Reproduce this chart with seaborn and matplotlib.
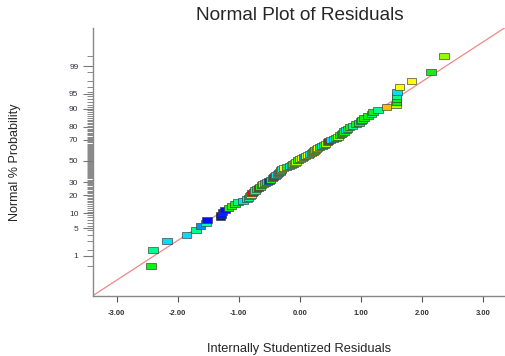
import matplotlib
matplotlib.use("Agg")
import matplotlib.pyplot as plt
import seaborn as sns
import numpy as np
import pandas as pd
from matplotlib.colors import LinearSegmentedColormap
from matplotlib.markers import MarkerStyle
from matplotlib.path import Path
from statistics import NormalDist

# Internally studentized residuals, sorted
residuals = [
    -2.44, -2.41, -2.18, -1.86, -1.70, -1.63, -1.54, -1.52, -1.30, -1.29,
    -1.27, -1.23, -1.17, -1.12, -1.06, -1.01, -0.93, -0.87, -0.84, -0.82,
    -0.80, -0.78, -0.76, -0.74, -0.71, -0.68, -0.65, -0.63, -0.60, -0.57,
    -0.54, -0.51, -0.48, -0.45, -0.43, -0.41, -0.39, -0.37, -0.35, -0.33,
    -0.32, -0.31, -0.30, -0.27, -0.22, -0.17, -0.14, -0.11, -0.08, -0.06,
    -0.03, 0.00, 0.03, 0.06, 0.09, 0.13, 0.16, 0.19, 0.21, 0.23,
    0.25, 0.27, 0.29, 0.32, 0.36, 0.39, 0.42, 0.45, 0.47, 0.50,
    0.55, 0.59, 0.62, 0.65, 0.68, 0.70, 0.72, 0.75, 0.78, 0.81,
    0.86, 0.92, 0.97, 1.00, 1.02, 1.05, 1.12, 1.17, 1.20, 1.28,
    1.42, 1.575, 1.58, 1.58, 1.585, 1.59, 1.63, 1.83, 2.15, 2.36,
]

# colour level of each point (0 = blue ... 1 = red)
color_level = [
    0.50, 0.42, 0.30, 0.30, 0.42, 0.18, 0.40, 0.02, 0.00, 0.03,
    0.05, 0.02, 0.50, 0.52, 0.50, 0.42, 0.30, 0.40, 0.42, 0.40,
    0.78, 1.00, 0.42, 0.40, 0.50, 1.00, 0.50, 0.50, 0.60, 0.50,
    0.30, 0.05, 0.50, 0.30, 1.00, 0.50, 0.30, 0.72, 0.18, 0.62,
    0.30, 0.72, 0.30, 0.72, 0.50, 0.30, 0.62, 0.50, 0.72, 0.62,
    0.50, 0.62, 0.72, 0.18, 0.62, 0.72, 0.30, 0.72, 0.50, 0.72,
    0.50, 0.72, 0.72, 0.50, 0.30, 0.50, 0.62, 0.50, 1.00, 0.30,
    0.30, 0.50, 0.62, 0.50, 0.50, 0.62, 0.50, 0.30, 0.50, 0.50,
    0.42, 0.50, 0.50, 0.30, 0.50, 0.50, 0.50, 0.42, 0.50, 0.42,
    0.85, 0.62, 0.50, 0.50, 0.42, 0.30, 0.72, 0.72, 0.50, 0.60,
]

prob_labels = [1, 5, 10, 20, 30, 50, 70, 80, 90, 95, 99]
x_ticks = [-3, -2, -1, 0, 1, 2, 3]
ref_slope = 0.972

n = len(residuals)
nd = NormalDist()
z = [nd.inv_cdf((i + 0.5) / n) for i in range(n)]
df = pd.DataFrame({"res": residuals, "z": z, "lvl": color_level})

cmap = LinearSegmentedColormap.from_list("de", [
    (0.0, "#0000FF"), (0.18, "#0090FF"), (0.30, "#00E0F8"), (0.40, "#00FFA8"),
    (0.50, "#10F010"), (0.62, "#A8FF00"), (0.72, "#FFFF00"), (0.85, "#FFC000"),
    (1.0, "#FF0000")])

sns.set_style("white")
plt.rcParams["font.family"] = ["Liberation Sans", "DejaVu Sans"]

fig = plt.figure(figsize=(5.05, 3.56), dpi=100)
ax = fig.add_axes([93 / 505, 1 - 296 / 356, 412 / 505, (296 - 28) / 356])

xlim = (-3.39, 3.36)
ax.plot(xlim, [ref_slope * xlim[0], ref_slope * xlim[1]], color="#F08888", lw=0.9, zorder=1)

rect = MarkerStyle(Path([(-1.6, -1), (1.6, -1), (1.6, 1), (-1.6, 1), (-1.6, -1)]))
sns.scatterplot(data=df, x="res", y="z", hue="lvl", palette=cmap, hue_norm=(0, 1),
                marker=rect, s=48, edgecolor="#383838", linewidth=0.45,
                legend=False, ax=ax, zorder=3)

ax.set_xlim(*xlim)
ax.set_ylim(-3.306, 3.257)

ax.set_xticks(x_ticks)
ax.set_xticklabels([f"{t:.2f}" for t in x_ticks], fontsize=5.5, fontweight="bold", color="#333333")
ax.set_yticks([nd.inv_cdf(p / 100) for p in prob_labels])
ax.set_yticklabels([str(p) for p in prob_labels], fontsize=6, color="#333344")
ax.set_yticks(z, minor=True)

ax.tick_params(axis="x", length=4, width=0.8, color="#555555", pad=6, bottom=True)
ax.tick_params(axis="y", which="major", length=7.5, width=0.8, color="#777777", pad=3, left=True)
ax.tick_params(axis="y", which="minor", length=4, width=0.7, color="#888888", left=True)

for side in ["top", "right"]:
    ax.spines[side].set_visible(False)
for side in ["left", "bottom"]:
    ax.spines[side].set_color("#888888")
    ax.spines[side].set_linewidth(1.0)

ax.set_xlabel("Internally Studentized Residuals", fontsize=9.3)
ax.set_ylabel("Normal % Probability", fontsize=9)
ax.xaxis.set_label_coords(0.5, -(349 - 296) / 268)
ax.yaxis.set_label_coords(-(93 - 15) / 412, 0.5)
ax.xaxis.label.set_va("center")
ax.yaxis.label.set_va("center")

fig.text(300 / 505, 1 - 15 / 356, "Normal Plot of Residuals", fontsize=13.7,
         ha="center", va="center")

fig.savefig("out.png", dpi=100)
